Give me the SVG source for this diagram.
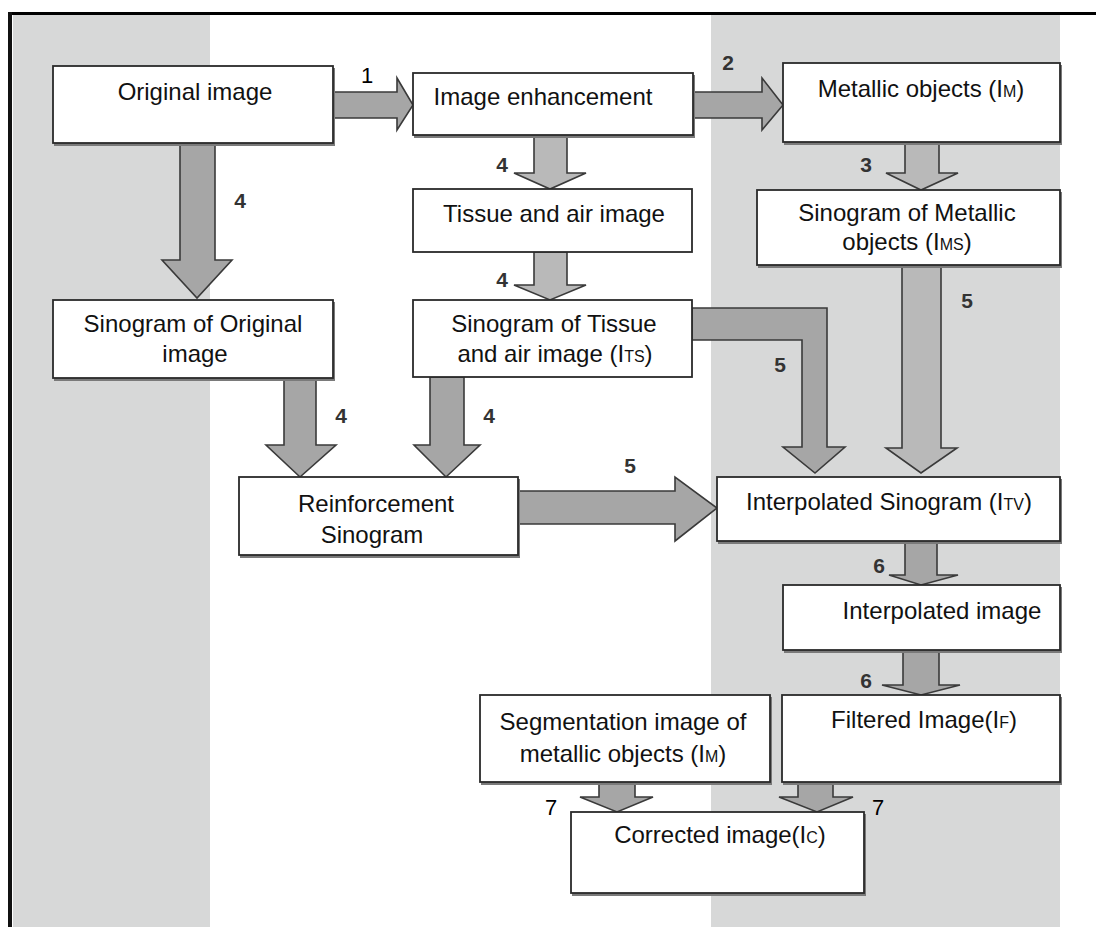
<svg xmlns="http://www.w3.org/2000/svg" width="1096" height="927" viewBox="0 0 1096 927">
<style>
.box{fill:#fff;stroke:#2a2a2a;stroke-width:1.8}
.sh{fill:#7a7a7a;stroke:none}
.t{font-family:"Liberation Sans",Arial,sans-serif;font-size:24px;fill:#111;text-anchor:middle}
.s{font-size:16px}
.ar{fill:#a6a6a6;stroke:#3a3a3a;stroke-width:1.6;stroke-linejoin:miter}
.arl{fill:#b9b9b9;stroke:#3a3a3a;stroke-width:1.6}
.lb{font-family:"Liberation Sans",Arial,sans-serif;font-size:21px;font-weight:bold;fill:#333;text-anchor:middle}
.ln{font-family:"Liberation Sans",Arial,sans-serif;font-size:22px;fill:#000;text-anchor:middle}
</style>
<rect x="0" y="0" width="1096" height="927" fill="#fff"/>
<g id="background">
<rect x="13" y="15" width="197" height="912" fill="#d7d8d8"/>
<rect x="711" y="15" width="349" height="912" fill="#d7d8d8"/>
<line x1="8" y1="13.5" x2="1096" y2="13.5" stroke="#000" stroke-width="3"/>
<line x1="10" y1="12" x2="10" y2="927" stroke="#111" stroke-width="4"/>
</g>
<g id="connectors">
<polygon class="ar" points="333,92 397,92 397,78 413,105 397,130 397,118 333,118"/>
<polygon class="ar" points="693,92 762,92 762,78 783,105 762,130 762,118 693,118"/>
<polygon class="ar" points="180,143 215,143 215,260 232,260 197,298 162,260 180,260"/>
<polygon class="arl" points="534,135 567,135 567,173 586,173 550,189 514,173 534,173"/>
<polygon class="arl" points="534,252 567,252 567,285 586,285 550,300 514,285 534,285"/>
<polygon class="arl" points="905,142 939,142 939,173 958,173 921,190 886,173 905,173"/>
<polygon class="ar" points="284,378 316,378 316,445 336,445 300,477 266,445 284,445"/>
<polygon class="ar" points="430,377 464,377 464,445 480,445 446,477 414,445 430,445"/>
<polygon class="ar" points="518,491 675,491 675,477 717,508 675,541 675,524 518,524"/>
<polygon class="ar" points="692,308 827,308 827,447 845,447 815,473 783,447 802,447 802,340 692,340"/>
<polygon class="arl" points="902,265 941,265 941,448 957,448 921,473 886,448 902,448"/>
<polygon class="ar" points="905,541 937,541 937,575 958,575 921,585 889,575 905,575"/>
<polygon class="ar" points="903,650 939,650 939,685 960,685 921,695 882,685 903,685"/>
<polygon class="ar" points="599,782 635,782 635,797 653,797 617,812 580,797 599,797"/>
<polygon class="ar" points="798,782 833,782 833,797 853,797 817,812 779,797 798,797"/>
<text class="ln" x="367" y="83">1</text>
<text class="lb" x="728" y="70">2</text>
<text class="lb" x="240" y="208">4</text>
<text class="lb" x="502" y="172">4</text>
<text class="lb" x="502" y="287">4</text>
<text class="lb" x="866" y="172">3</text>
<text class="lb" x="967" y="308">5</text>
<text class="lb" x="780" y="372">5</text>
<text class="lb" x="341" y="423">4</text>
<text class="lb" x="489" y="423">4</text>
<text class="lb" x="630" y="473">5</text>
<text class="lb" x="879" y="573">6</text>
<text class="lb" x="866" y="688">6</text>
<text class="ln" x="551" y="815">7</text>
<text class="ln" x="878" y="815">7</text>
</g>
<g id="n-original"><rect class="sh" x="54" y="68" width="281" height="78"/><rect class="box" x="53" y="66" width="280" height="77"/><text class="t" x="195" y="100">Original image</text></g>
<g id="n-enhance"><rect class="sh" x="414" y="75" width="281" height="63"/><rect class="box" x="413" y="73" width="280" height="62"/><text class="t" x="543" y="105">Image enhancement</text></g>
<g id="n-metallic"><rect class="sh" x="784" y="65" width="278" height="80"/><rect class="box" x="783" y="63" width="277" height="79"/><text class="t" x="921" y="97">Metallic objects (I<tspan class="s">M</tspan>)</text></g>
<g id="n-tissue"><rect class="box" x="413" y="189" width="279" height="63"/><text class="t" x="554" y="222">Tissue and air image</text></g>
<g id="n-sinmetal"><rect class="sh" x="758" y="192" width="304" height="76"/><rect class="box" x="757" y="190" width="303" height="75"/><text class="t" x="907" y="221">Sinogram of Metallic</text><text class="t" x="907" y="250">objects (I<tspan class="s">MS</tspan>)</text></g>
<g id="n-sinorig"><rect class="sh" x="54" y="302" width="281" height="79"/><rect class="box" x="53" y="300" width="280" height="78"/><text class="t" x="193" y="332">Sinogram of Original</text><text class="t" x="195" y="362">image</text></g>
<g id="n-sintissue"><rect class="box" x="413" y="300" width="279" height="77"/><text class="t" x="554" y="332">Sinogram of Tissue</text><text class="t" x="555" y="362">and air image (I<tspan class="s">TS</tspan>)</text></g>
<g id="n-reinf"><rect class="sh" x="240" y="479" width="280" height="79"/><rect class="box" x="239" y="477" width="279" height="78"/><text class="t" x="376" y="512">Reinforcement</text><text class="t" x="372" y="543">Sinogram</text></g>
<g id="n-interpsino"><rect class="sh" x="718" y="479" width="344" height="65"/><rect class="box" x="717" y="477" width="343" height="64"/><text class="t" x="889" y="510">Interpolated Sinogram (I<tspan class="s">TV</tspan>)</text></g>
<g id="n-interpimg"><rect class="sh" x="784" y="587" width="278" height="66"/><rect class="box" x="783" y="585" width="277" height="65"/><text class="t" x="942" y="619">Interpolated image</text></g>
<g id="n-seg"><rect class="sh" x="481" y="697" width="291" height="88"/><rect class="box" x="480" y="695" width="290" height="87"/><text class="t" x="623" y="730">Segmentation image of</text><text class="t" x="623" y="762">metallic objects (I<tspan class="s">M</tspan>)</text></g>
<g id="n-filt"><rect class="sh" x="783" y="697" width="279" height="88"/><rect class="box" x="782" y="695" width="278" height="87"/><text class="t" x="924" y="728">Filtered Image(I<tspan class="s">F</tspan>)</text></g>
<g id="n-corr"><rect class="sh" x="572" y="814" width="294" height="82"/><rect class="box" x="571" y="812" width="293" height="81"/><text class="t" x="720" y="843">Corrected image(I<tspan class="s">C</tspan>)</text></g>
</svg>
